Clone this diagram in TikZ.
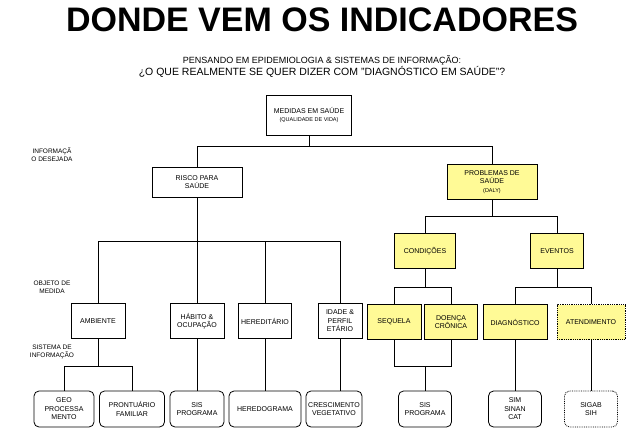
\documentclass[tikz,border=0pt]{standalone}
\usepackage{fontspec}
\setmainfont{Liberation Sans}
\begin{document}
\begin{tikzpicture}[x=1pt,y=-1pt,
 bx/.style={draw,thick,fill=white,minimum height=#1,align=center,font=\fontsize{7}{8.5}\selectfont,inner sep=1pt},
 yb/.style={draw,thick,fill={rgb,255:red,255;green,250;blue,150},minimum height=35,align=center,font=\fontsize{7}{8.5}\selectfont,inner sep=1pt},
 rb/.style={draw,thick,rounded corners=5,fill=white,minimum height=36,align=center,font=\fontsize{7}{8.5}\selectfont,inner sep=1pt},
 lab/.style={align=center,font=\fontsize{6.5}{8}\selectfont},
 ln/.style={thick}]
\useasboundingbox (0,0) rectangle (640,447);
\node (t) at (322,20) {\fontsize{34}{36}\selectfont\bfseries DONDE VEM OS INDICADORES};
\node[align=center,font=\fontsize{9}{11}\selectfont] (st) at (322,67) {PENSANDO EM EPIDEMIOLOGIA \& SISTEMAS DE INFORMAÇÃO:\\\fontsize{10.5}{12}\selectfont ¿O QUE REALMENTE SE QUER DIZER COM "DIAGNÓSTICO EM SAÚDE"?};
\node[lab] (l1) at (52,155) {INFORMAÇÃ\\O DESEJADA};
\node[lab] (l2) at (52,287) {OBJETO DE\\MEDIDA};
\node[lab] (l3) at (52,352) {SISTEMA DE\\INFORMAÇÃO};
\node[bx=40,minimum width=85] (med) at (309,115) {MEDIDAS EM SAÚDE\\\fontsize{5.5}{7}\selectfont(QUALIDADE DE VIDA)};
\node[bx=30,minimum width=90] (ris) at (197,182) {RISCO PARA\\SAÚDE};
\node[yb,minimum width=90] (pro) at (492,182) {PROBLEMAS DE\\SAÚDE\\\fontsize{5.5}{7}\selectfont(DALY)};
\node[bx=35,minimum width=54] (amb) at (98,321) {AMBIENTE};
\node[bx=35,minimum width=54] (hab) at (197,321) {HÁBITO \&\\OCUPAÇÃO};
\node[bx=35,minimum width=53] (her) at (265,321) {HEREDITÁRIO};
\node[bx=35,minimum width=44] (ida) at (340,321) {IDADE \&\\PERFIL\\ETÁRIO};
\node[yb,minimum width=61] (con) at (425,251) {CONDIÇÕES};
\node[yb,minimum width=53] (eve) at (557,251) {EVENTOS};
\node[yb,minimum width=54] (seq) at (394,322) {SEQUELA};
\node[yb,minimum width=53] (doe) at (451,322) {DOENÇA\\CRÔNICA};
\node[yb,minimum width=64] (dia) at (515,322) {DIAGNÓSTICO};
\node[yb,minimum width=68,densely dotted] (ate) at (591,322) {ATENDIMENTO};
\node[rb,minimum width=60] (geo) at (64,409) {GEO\\PROCESSA\\MENTO};
\node[rb,minimum width=65] (prt) at (132,409) {PRONTUÁRIO\\FAMILIAR};
\node[rb,minimum width=54] (sis1) at (197,409) {SIS\\PROGRAMA};
\node[rb,minimum width=72] (hdg) at (265,409) {HEREDOGRAMA};
\node[rb,minimum width=56] (cre) at (334,409) {CRESCIMENTO\\VEGETATIVO};
\node[rb,minimum width=53] (sis2) at (425,409) {SIS\\PROGRAMA};
\node[rb,minimum width=53] (sim) at (515,409) {SIM\\SINAN\\CAT};
\node[rb,minimum width=53,densely dotted] (sig) at (591,409) {SIGAB\\SIH};
\draw[ln] (med.south) -- (309,146) -| (ris.north);
\draw[ln] (309,146) -| (pro.north);
\draw[ln] (ris.south) -- (197,241) -| (amb.north);
\draw[ln] (197,241) -- (hab.north);
\draw[ln] (197,241) -| (her.north);
\draw[ln] (197,241) -| (ida.north);
\draw[ln] (amb.south) -- (98,366) -| (geo.north);
\draw[ln] (98,366) -| (prt.north);
\draw[ln] (hab.south) -- (sis1.north);
\draw[ln] (her.south) -- (hdg.north);
\draw[ln] (ida.south) -- (ida.south|-cre.north);
\draw[ln] (pro.south) -- (492,216) -| (con.north);
\draw[ln] (492,216) -| (eve.north);
\draw[ln] (con.south) -- (425,287) -| (seq.north);
\draw[ln] (425,287) -| (doe.north);
\draw[ln] (eve.south) -- (557,287) -| (dia.north);
\draw[ln] (557,287) -| (ate.north);
\draw[ln] (seq.south) -- (394,366) -| (doe.south);
\draw[ln] (425,366) -- (sis2.north);
\draw[ln] (dia.south) -- (sim.north);
\draw[ln] (ate.south) -- (sig.north);
\end{tikzpicture}
\end{document}
